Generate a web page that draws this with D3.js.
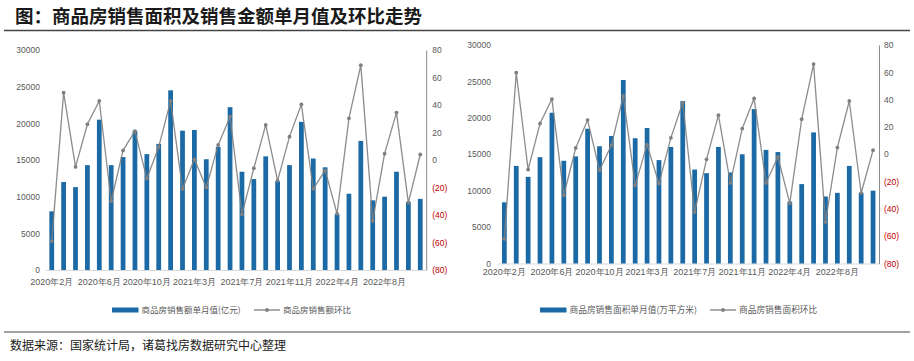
<!DOCTYPE html>
<html><head><meta charset="utf-8">
<script src="https://cdn.jsdelivr.net/npm/d3@7/dist/d3.min.js"></script>
<style>
html,body{margin:0;padding:0;background:#fff;}
svg{display:block;font-family:"Noto Sans CJK SC","Noto Sans",sans-serif;}
</style></head>
<body>
<svg id="c" width="914" height="361"></svg>
<script>
const categories = [
  "2020年2月","2020年3月","2020年4月","2020年5月","2020年6月","2020年7月","2020年8月","2020年9月","2020年10月","2020年11月","2020年12月",
  "2021年2月","2021年3月","2021年4月","2021年5月","2021年6月","2021年7月","2021年8月","2021年9月","2021年10月","2021年11月","2021年12月",
  "2022年2月","2022年3月","2022年4月","2022年5月","2022年6月","2022年7月","2022年8月","2022年9月","2022年10月","2022年11月"
];
const tickLabels = ["2020年2月","2020年6月","2020年10月","2021年3月","2021年7月","2021年11月","2022年4月","2022年8月"];

// 商品房销售额单月值(亿元)
const salesAmount = [8000,12000,11300,14300,20500,14300,15400,19000,15800,17200,24500,
  19000,19100,15100,16800,22200,13400,12400,15500,12100,14300,20200,
  15200,14000,7600,10400,17600,9500,10000,13400,9300,9700];
// 商品房销售额环比(%)
const salesAmountMoM = [-59,49,-5,26,43,-30,7,21,-13.5,9.5,43,
  -21,0.5,-20,11,31.5,-39.5,-6,25.5,-15,17,40.5,
  -21,-7.5,-39,30.3,69,-44.3,4.6,34.5,-31,4];

// 商品房销售面积单月值(万平方米)
const salesArea = [8400,13400,11900,14600,20700,14100,14700,18500,16100,17500,25200,
  17200,18600,14200,16000,22300,12900,12400,16000,12500,15000,21200,
  15600,15300,8500,10900,18000,9200,9700,13400,9700,10000];
// 商品房销售面积环比(%)
const salesAreaMoM = [-62,59.7,-11.3,22.5,40.4,-30,4.6,25,-11.7,6.6,42.8,
  -22.8,7,-21.5,12,37.7,-42.3,-3.7,28.6,-21,18.8,40.9,
  -21,-2,-36,25.7,66,-49.7,4.9,39,-28.4,3];

const leftTicks = [0,5000,10000,15000,20000,25000,30000];
const rightTicks = [-80,-60,-40,-20,0,20,40,60,80];

const barColor = "#1b6aa5";
const lineColor = "#7f7f7f";
const textColor = "#595959";

const svg = d3.select("#c");

// Title
svg.append("text").attr("x",15).attr("y",23)
  .attr("font-size",18.5).attr("font-weight","bold").attr("fill","#1a1a1a")
  .text("图：商品房销售面积及销售金额单月值及环比走势");
svg.append("line").attr("x1",4).attr("x2",910).attr("y1",30.5).attr("y2",30.5)
  .attr("stroke","#444").attr("stroke-width",1.5);

// Footer
svg.append("line").attr("x1",4).attr("x2",910).attr("y1",332).attr("y2",332)
  .attr("stroke","#444").attr("stroke-width",1);
svg.append("text").attr("x",10).attr("y",349.5)
  .attr("font-size",12).attr("fill","#1a1a1a")
  .text("数据来源：国家统计局，诸葛找房数据研究中心整理");

function drawChart(cfg){
  const g = svg.append("g");
  const x = d3.scaleBand().domain(categories).range(cfg.xRange).paddingInner(0.6).paddingOuter(0.3);
  const yL = d3.scaleLinear().domain([0,30000]).range([cfg.yBottom,cfg.yTop]);
  const yR = d3.scaleLinear().domain([-80,80]).range([cfg.yBottom,cfg.yTop]);

  // baseline
  g.append("line").attr("x1",cfg.xRange[0]).attr("x2",cfg.xRange[1])
    .attr("y1",cfg.yBottom+0.5).attr("y2",cfg.yBottom+0.5).attr("stroke","#d9d9d9");

  // left axis labels
  const la = g.append("g").attr("transform",`translate(${cfg.leftLabelX},0)`)
    .call(d3.axisLeft(yL).tickValues(leftTicks).tickSize(0).tickPadding(0).tickFormat(d3.format("d")));
  la.select(".domain").remove();
  la.selectAll("text").attr("font-size",8.5).attr("fill",textColor).attr("font-family","'Liberation Sans','Noto Sans',sans-serif");

  // right axis
  const ra = g.append("g").attr("transform",`translate(${cfg.xRange[1]},0)`)
    .call(d3.axisRight(yR).tickValues(rightTicks).tickSize(0).tickPadding(cfg.rightPad)
      .tickFormat(d => d<0 ? "("+(-d)+")" : String(d)));
  ra.select(".domain").attr("stroke","#8c8c8c");
  ra.selectAll("text").attr("font-size",8.5).attr("font-family","'Liberation Sans','Noto Sans',sans-serif")
    .attr("fill", d => d<0 ? "#c00000" : textColor);

  // x axis labels
  const xa = g.append("g").attr("transform",`translate(0,${cfg.yBottom})`)
    .call(d3.axisBottom(x).tickValues(tickLabels).tickSize(0).tickPadding(cfg.xPad));
  xa.select(".domain").remove();
  xa.selectAll("text").attr("font-size",9).attr("fill",textColor);

  // bars
  g.selectAll("rect.bar").data(cfg.bars).enter().append("rect").attr("class","bar")
    .attr("x",(d,i)=>x(categories[i])).attr("width",x.bandwidth())
    .attr("y",d=>yL(d)).attr("height",d=>yL(0)-yL(d)).attr("fill",barColor);

  // line
  const line = d3.line().x((d,i)=>x(categories[i])+x.bandwidth()/2).y(d=>yR(d));
  g.append("path").datum(cfg.line).attr("d",line).attr("fill","none")
    .attr("stroke",lineColor).attr("stroke-width",1.3).attr("stroke-opacity",0.9);
  g.selectAll("circle.pt").data(cfg.line).enter().append("circle").attr("class","pt")
    .attr("cx",(d,i)=>x(categories[i])+x.bandwidth()/2).attr("cy",d=>yR(d)).attr("r",1.9)
    .attr("fill",lineColor);

  // legend
  const lg = g.append("g");
  lg.append("rect").attr("x",cfg.legX).attr("y",307.5).attr("width",26.5).attr("height",5).attr("fill",barColor);
  lg.append("text").attr("x",cfg.legX+29.5).attr("y",313).attr("font-size",cfg.legFont).attr("fill",textColor).text(cfg.barName);
  lg.append("line").attr("x1",cfg.legX2).attr("x2",cfg.legX2+26).attr("y1",310).attr("y2",310)
    .attr("stroke",lineColor).attr("stroke-width",1.3);
  lg.append("circle").attr("cx",cfg.legX2+13).attr("cy",310).attr("r",1.9).attr("fill",lineColor);
  lg.append("text").attr("x",cfg.legX2+29).attr("y",313).attr("font-size",cfg.legFont).attr("fill",textColor).text(cfg.lineName);
}

drawChart({
  xRange:[45.8,426.2], yTop:50, yBottom:270, leftLabelX:40, rightPad:6, xPad:9,
  bars:salesAmount, line:salesAmountMoM,
  legX:112, legX2:254, legFont:8.5,
  barName:"商品房销售额单月值(亿元)", lineName:"商品房销售额环比"
});
drawChart({
  xRange:[498.4,879], yTop:45, yBottom:263.5, leftLabelX:491, rightPad:5, xPad:5,
  bars:salesArea, line:salesAreaMoM,
  legX:540, legX2:710, legFont:8.7,
  barName:"商品房销售面积单月值(万平方米)", lineName:"商品房销售面积环比"
});
</script>
</body></html>
